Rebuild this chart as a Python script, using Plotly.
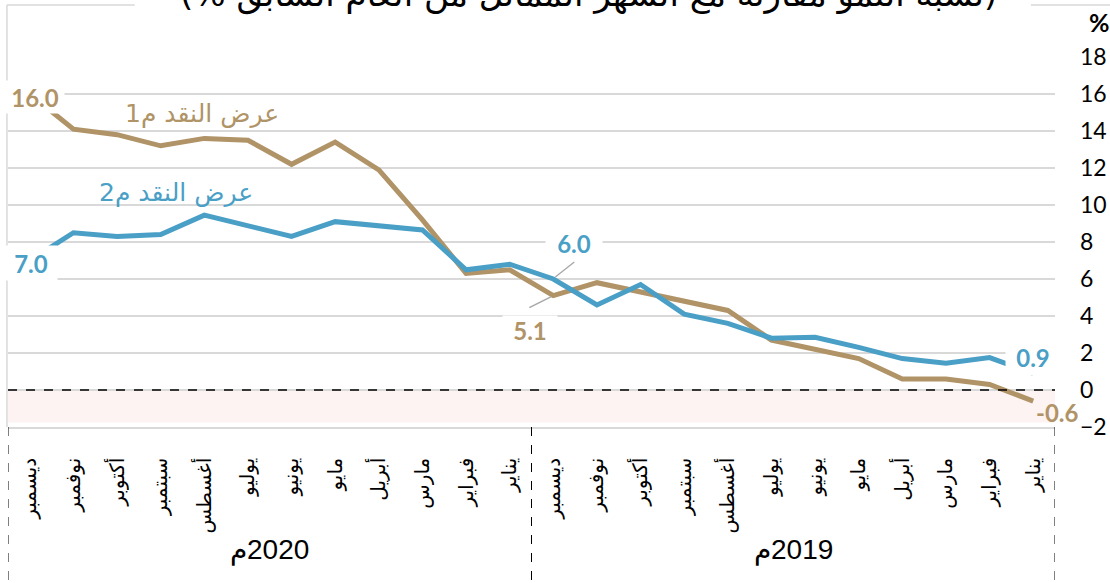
import plotly.graph_objects as go

# Data: index 0 = January 2019 ... index 23 = December 2020
months = ["يناير", "فبراير", "مارس", "أبريل", "مايو", "يونيو",
          "يوليو", "أغسطس", "سبتمبر", "أكتوبر", "نوفمبر", "ديسمبر"]
years = ["2019م", "2020م"]
tick_labels = months + months
m1 = [-0.6, 0.3, 0.6, 0.6, 1.7, 2.2, 2.7, 4.3, 4.8, 5.35, 5.8, 5.1,
      6.5, 6.3, 9.2, 11.9, 13.4, 12.2, 13.5, 13.6, 13.2, 13.8, 14.1, 16.0]
m2 = [0.9, 1.75, 1.45, 1.7, 2.3, 2.85, 2.8, 3.6, 4.1, 5.7, 4.6, 6.0,
      6.8, 6.5, 8.65, 8.85, 9.1, 8.3, 8.9, 9.45, 8.4, 8.3, 8.5, 7.0]
series_names = ["عرض النقد م1", "عرض النقد م2"]
title_text = "(نسبة النمو مقارنة مع الشهر المماثل من العام السابق %)"

x = list(range(len(m1)))
GOLD = "#b09366"
BLUE = "#4a9fc6"
RLE, PDF = "\u202b", "\u202c"

fig = go.Figure()
fig.add_trace(go.Scatter(x=x, y=m1, mode="lines", line=dict(color=GOLD, width=5),
                         name=series_names[0], showlegend=False, hoverinfo="skip"))
fig.add_trace(go.Scatter(x=x, y=m2, mode="lines", line=dict(color=BLUE, width=5),
                         name=series_names[1], showlegend=False, hoverinfo="skip"))

shapes = []
# pink band below zero
shapes.append(dict(type="rect", xref="paper", yref="y", x0=0, x1=1, y0=-1.75, y1=0,
                   fillcolor="#fdf3f3", line=dict(width=0), layer="below"))
# zero dashed line (white under it to hide gridline)
shapes.append(dict(type="line", xref="paper", yref="y", x0=0, x1=1, y0=0, y1=0,
                   line=dict(color="white", width=2), layer="between"))
shapes.append(dict(type="line", xref="paper", yref="y", x0=0, x1=1, y0=0, y1=0,
                   line=dict(color="black", width=1.3, dash="dash"), layer="above"))
# year group dividers
for xv in [-0.5, 11.5, 23.5]:
    shapes.append(dict(type="line", xref="x", yref="paper", x0=xv, x1=xv, y0=0, y1=-0.43,
                       line=dict(color="black", width=1, dash="dash")))
# frame
shapes.append(dict(type="line", xref="paper", yref="paper", x0=-0.001, x1=-0.001, y0=0, y1=1.1405,
                   line=dict(color="#d9d9d9", width=1.5)))
shapes.append(dict(type="line", xref="paper", yref="paper", x0=-0.001, x1=0.121, y0=1.1405, y1=1.1405,
                   line=dict(color="#d9d9d9", width=1.5)))
shapes.append(dict(type="line", xref="paper", yref="paper", x0=0.977, x1=1.06, y0=1.1405, y1=1.1405,
                   line=dict(color="#d9d9d9", width=1.5)))
# leader lines for December 2019 labels
dec19 = 11
shapes.append(dict(type="line", xref="x", yref="y", xsizemode="pixel", ysizemode="pixel",
                   xanchor=dec19, yanchor=m2[dec19], x0=2, x1=21, y0=2, y1=17,
                   line=dict(color="#a6a6a6", width=1.3)))
shapes.append(dict(type="line", xref="x", yref="y", xsizemode="pixel", ysizemode="pixel",
                   xanchor=dec19, yanchor=m1[dec19], x0=-2, x1=-24, y0=-1, y1=-12,
                   line=dict(color="#a6a6a6", width=1.3)))

annotations = []
lbl_font = "Lato"
def val_label(i, series, color, xs, ys, bg=True, w=None, h=None):
    v = series[i]
    d = dict(x=i, y=v, xref="x", yref="y", text=f"<b>{v:.1f}</b>", showarrow=False,
             font=dict(family=lbl_font, size=24, color=color), xshift=xs, yshift=ys,
             xanchor="center", yanchor="middle")
    if bg:
        d["bgcolor"] = "white"
    if w:
        d["width"] = w
    if h:
        d["height"] = h
    annotations.append(d)

val_label(23, m1, GOLD, 5, -3, w=56, h=30)
val_label(23, m2, BLUE, 1, -2, w=50, h=32)
val_label(11, m2, BLUE, 21, 36, w=54, h=24)
val_label(11, m1, GOLD, -23, -34, w=52, h=26)
val_label(0, m2, BLUE, 0, 16, w=52, h=34)
val_label(0, m1, GOLD, 24, -11, bg=False)

# series name labels
annotations.append(dict(x=19.05, y=14.97, xref="x", yref="y", text=RLE + series_names[0] + PDF,
                        showarrow=False, xanchor="center", yanchor="middle",
                        font=dict(family="DejaVu Sans", size=25, color=GOLD)))
annotations.append(dict(x=19.65, y=10.7, xref="x", yref="y", text=RLE + series_names[1] + PDF,
                        showarrow=False, xanchor="center", yanchor="middle",
                        font=dict(family="DejaVu Sans", size=25, color=BLUE)))
# year labels
for idx, yr_x in ((0, 5.5), (1, 17.5)):
    annotations.append(dict(x=yr_x, y=-0.332, xref="x", yref="paper", text=RLE + years[idx] + PDF,
                            showarrow=False, xanchor="center", yanchor="middle",
                            font=dict(family="Liberation Sans", size=28, color="black")))
# title (cropped at top edge) and unit
annotations.append(dict(x=0.554, y=1.1676, xref="paper", yref="paper", text=RLE + title_text + PDF,
                        showarrow=False, xanchor="center", yanchor="middle",
                        font=dict(family="DejaVu Sans", size=34, color="black")))
annotations.append(dict(x=1.0305, y=1.0946, xref="paper", yref="paper", text="<b>%</b>",
                        xanchor="left", yanchor="middle",
                        showarrow=False, font=dict(family="Lato", size=25, color="black")))

fig.update_layout(
    width=1110, height=583,
    margin=dict(l=8, r=55, t=57, b=156, autoexpand=False),
    paper_bgcolor="white", plot_bgcolor="white",
    shapes=shapes, annotations=annotations,
    xaxis=dict(range=[23.5, -0.5], tickvals=x, ticktext=tick_labels, tickangle=-90,
               showgrid=False, zeroline=False, showline=True, linecolor="#d9d9d9", linewidth=1.5,
               ticks="", ticklabelstandoff=21, automargin=False,
               tickfont=dict(family="DejaVu Sans", size=20, color="black")),
    yaxis=dict(side="right", range=[-2, 18], tickvals=list(range(-2, 19, 2)),
               showgrid=True, gridcolor="#d9d9d9", gridwidth=1.5, zeroline=False,
               ticks="", ticklabelstandoff=24, automargin=False,
               tickfont=dict(family="Lato", size=23, color="black")),
)

fig.write_html("out.html", config={"displayModeBar": False},
               post_script="document.body.style.margin='0';document.body.style.overflow='hidden';")
